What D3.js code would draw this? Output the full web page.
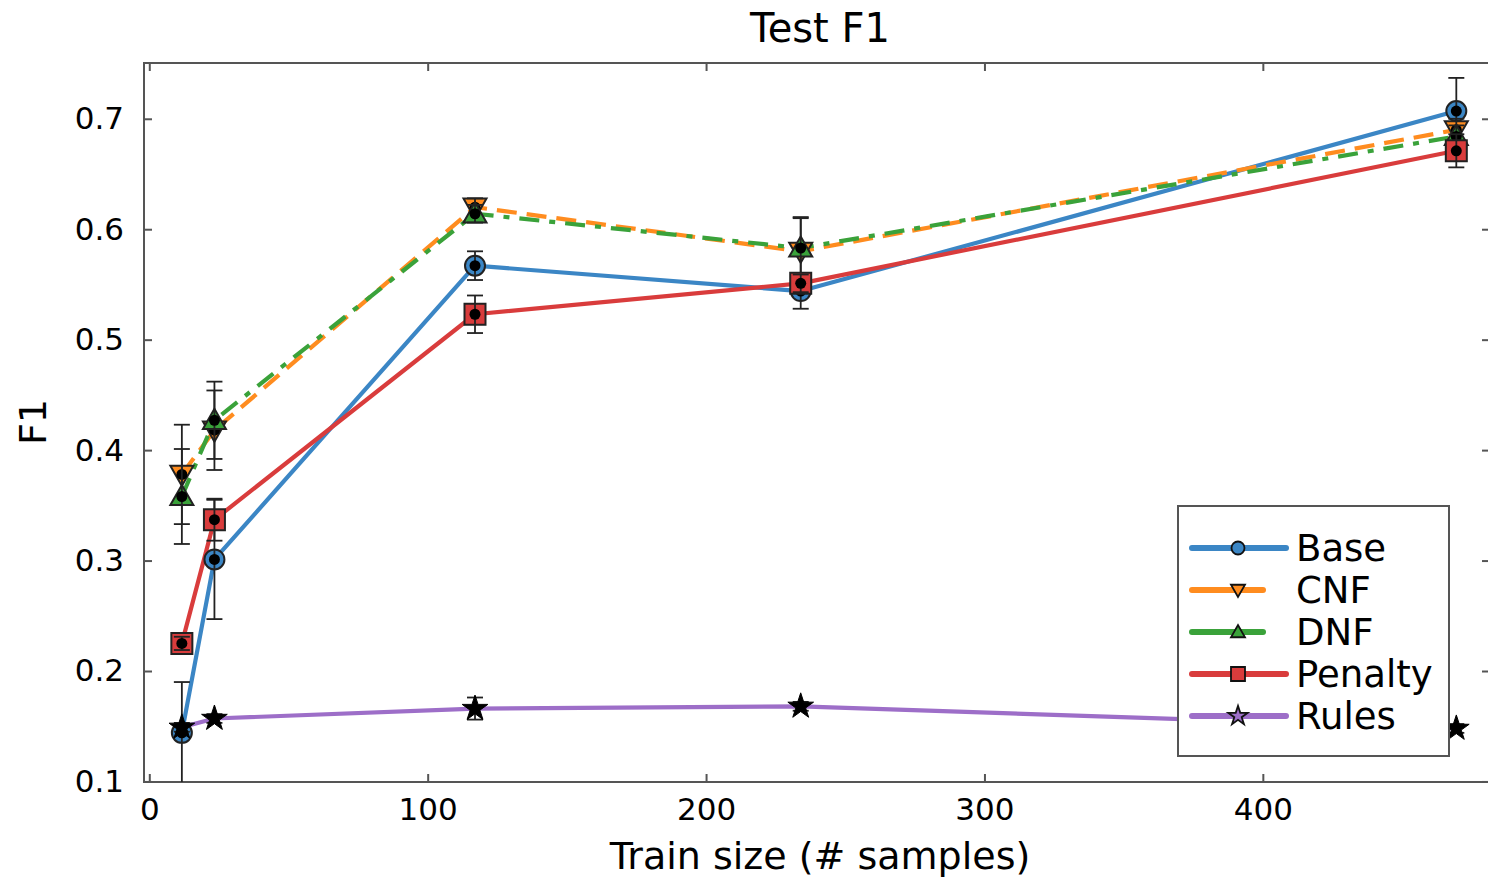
<!DOCTYPE html>
<html><head><meta charset="utf-8">
<script src="https://cdn.jsdelivr.net/npm/d3@7"></script>
<style>body{margin:0;background:#fff;} svg{display:block;} text{font-family:"DejaVu Sans",sans-serif;fill:#000;}</style>
</head><body>
<svg id="c" width="1488" height="878"></svg>
<script>
const trainSizes = [11.7, 23.4, 117, 234, 469.5];
const seriesNames = ["Base", "CNF", "DNF", "Penalty", "Rules"];
const baseF1 = [0.144, 0.301, 0.567, 0.544, 0.707];
const baseErr = [0.046, 0.054, 0.013, 0.016, 0.030];
const cnfF1 = [0.378, 0.418, 0.620, 0.580, 0.690];
const cnfErr = [0.045, 0.036, 0.008, 0.030, 0.010];
const dnfF1 = [0.358, 0.427, 0.614, 0.583, 0.684];
const dnfErr = [0.043, 0.035, 0.008, 0.028, 0.010];
const penaltyF1 = [0.225, 0.337, 0.523, 0.551, 0.671];
const penaltyErr = [0.006, 0.019, 0.017, 0.008, 0.015];
const rulesF1 = [0.149, 0.157, 0.166, 0.168, 0.148];
const rulesErr = [0.004, 0.004, 0.010, 0.004, 0.004];
const xTicks = [0, 100, 200, 300, 400];
const yTicks = [0.1, 0.2, 0.3, 0.4, 0.5, 0.6, 0.7];

const series = [
  {name:"Base", y:baseF1, e:baseErr, color:"#3b86c5", dash:null, sym:"circle"},
  {name:"CNF", y:cnfF1, e:cnfErr, color:"#ff8c1f", dash:"20,10", sym:"down"},
  {name:"DNF", y:dnfF1, e:dnfErr, color:"#3aa23a", dash:"20,10,6,10", sym:"up"},
  {name:"Penalty", y:penaltyF1, e:penaltyErr, color:"#d93c3c", dash:null, sym:"square"},
  {name:"Rules", y:rulesF1, e:rulesErr, color:"#9d6ec8", dash:null, sym:"star"}
];

const svg = d3.select("#c");
const L = 144, R = 1490, T = 63, B = 782;
const x = d3.scaleLinear().domain([-1.9, 481.6]).range([L, R]);
const y = d3.scaleLinear().domain([0.0995, 0.7505]).range([B, T]);

const defs = svg.append("defs");
defs.append("clipPath").attr("id","clip").append("rect").attr("x",L).attr("y",T).attr("width",R-L).attr("height",B-T);

const frameColor = "#555";
svg.append("rect").attr("x",L).attr("y",T).attr("width",R-L).attr("height",B-T)
  .attr("fill","none").attr("stroke",frameColor).attr("stroke-width",2);

const bottomAxis = d3.axisBottom(x).tickValues(xTicks).tickSize(-8).tickPadding(16).tickFormat(d3.format("d"));
const gx = svg.append("g").attr("transform",`translate(0,${B})`).call(bottomAxis);
const leftAxis = d3.axisLeft(y).tickValues(yTicks).tickSize(-8).tickPadding(20).tickFormat(d3.format(".1f"));
const gy = svg.append("g").attr("transform",`translate(${L},0)`).call(leftAxis);
const topAxis = d3.axisTop(x).tickValues(xTicks).tickSize(-8).tickFormat("");
const gt = svg.append("g").attr("transform",`translate(0,${T})`).call(topAxis);
const rightAxis = d3.axisRight(y).tickValues(yTicks).tickSize(-8).tickFormat("");
const gr = svg.append("g").attr("transform",`translate(${R},0)`).call(rightAxis);
[gx,gy,gt,gr].forEach(g=>{
  g.select(".domain").remove();
  g.selectAll(".tick line").attr("stroke",frameColor).attr("stroke-width",2);
  g.selectAll("text").style("font-size","31px").style("font-family","DejaVu Sans").attr("fill","#000");
});
gx.selectAll("text").attr("dy","0.71em");

svg.append("text").attr("x",820).attr("y",42).attr("text-anchor","middle").style("font-size","40px").text("Test F1");
svg.append("text").attr("x",820).attr("y",869).attr("text-anchor","middle").style("font-size","38px").text("Train size (# samples)");
svg.append("text").attr("transform","translate(46,422) rotate(-90)").attr("text-anchor","middle").style("font-size","38px").text("F1");

const plot = svg.append("g").attr("clip-path","url(#clip)");

function symPath(sym, size){
  const s = size;
  if(sym==="circle") return d3.symbol(d3.symbolCircle, Math.PI*s*s)();
  if(sym==="square") return `M${-s},${-s}H${s}V${s}H${-s}Z`;
  if(sym==="down") return `M${-s},${-s*0.75}H${s}L0,${s*1.0}Z`;
  if(sym==="up") return `M${-s},${s*0.75}H${s}L0,${-s*1.0}Z`;
  if(sym==="star") return d3.symbol(d3.symbolStar, s*s*3.2)();
}

const line = d3.line().x((d,i)=>x(trainSizes[i])).y(d=>y(d));
series.forEach(s=>{
  plot.append("path").datum(s.y).attr("d",line).attr("fill","none")
    .attr("stroke",s.color).attr("stroke-width",4.2)
    .attr("stroke-dasharray",s.dash).attr("stroke-linejoin","round");
});

series.forEach(s=>{
  const g = plot.append("g");
  s.y.forEach((v,i)=>{
    const cx = x(trainSizes[i]), cy = y(v);
    if(s.sym!=="star"){
      g.append("path").attr("d",symPath(s.sym, s.sym==="circle"?10:(s.sym==="square"?10.5:11.5)))
        .attr("transform",`translate(${cx},${cy})`)
        .attr("fill",s.color).attr("stroke","#222").attr("stroke-width",2);
    }
    const y1 = y(v - s.e[i]), y2 = y(v + s.e[i]);
    g.append("line").attr("x1",cx).attr("x2",cx).attr("y1",y1).attr("y2",y2).attr("stroke","#222").attr("stroke-width",1.8);
    [y1,y2].forEach(yy=>g.append("line").attr("x1",cx-8).attr("x2",cx+8).attr("y1",yy).attr("y2",yy).attr("stroke","#222").attr("stroke-width",1.8));
    if(s.sym==="star"){
      g.append("path").attr("d",symPath("star",8)).attr("transform",`translate(${cx},${cy})`)
        .attr("fill","#000").attr("stroke","#000").attr("stroke-width",1);
    } else {
      g.append("circle").attr("cx",cx).attr("cy",cy).attr("r",5.5).attr("fill","#000");
    }
  });
});

const lg = svg.append("g");
lg.append("rect").attr("x",1178).attr("y",506).attr("width",271).attr("height",250)
  .attr("fill","#fff").attr("stroke",frameColor).attr("stroke-width",2);
series.forEach((s,i)=>{
  const yy = 548 + i*42;
  const x2 = (s.name==="CNF"||s.name==="DNF") ? 1263 : 1286;
  lg.append("line").attr("x1",1192).attr("x2",x2).attr("y1",yy).attr("y2",yy)
    .attr("stroke",s.color).attr("stroke-width",6).attr("stroke-linecap","round");
  lg.append("path").attr("d",symPath(s.sym, s.sym==="star"?6:(s.sym==="circle"?6.5:7)))
    .attr("transform",`translate(1238,${yy})`).attr("fill",s.color).attr("stroke","#111").attr("stroke-width",1.8);
  lg.append("text").attr("x",1296).attr("y",yy+13).style("font-size","37px").text(s.name);
});
</script>
</body></html>
